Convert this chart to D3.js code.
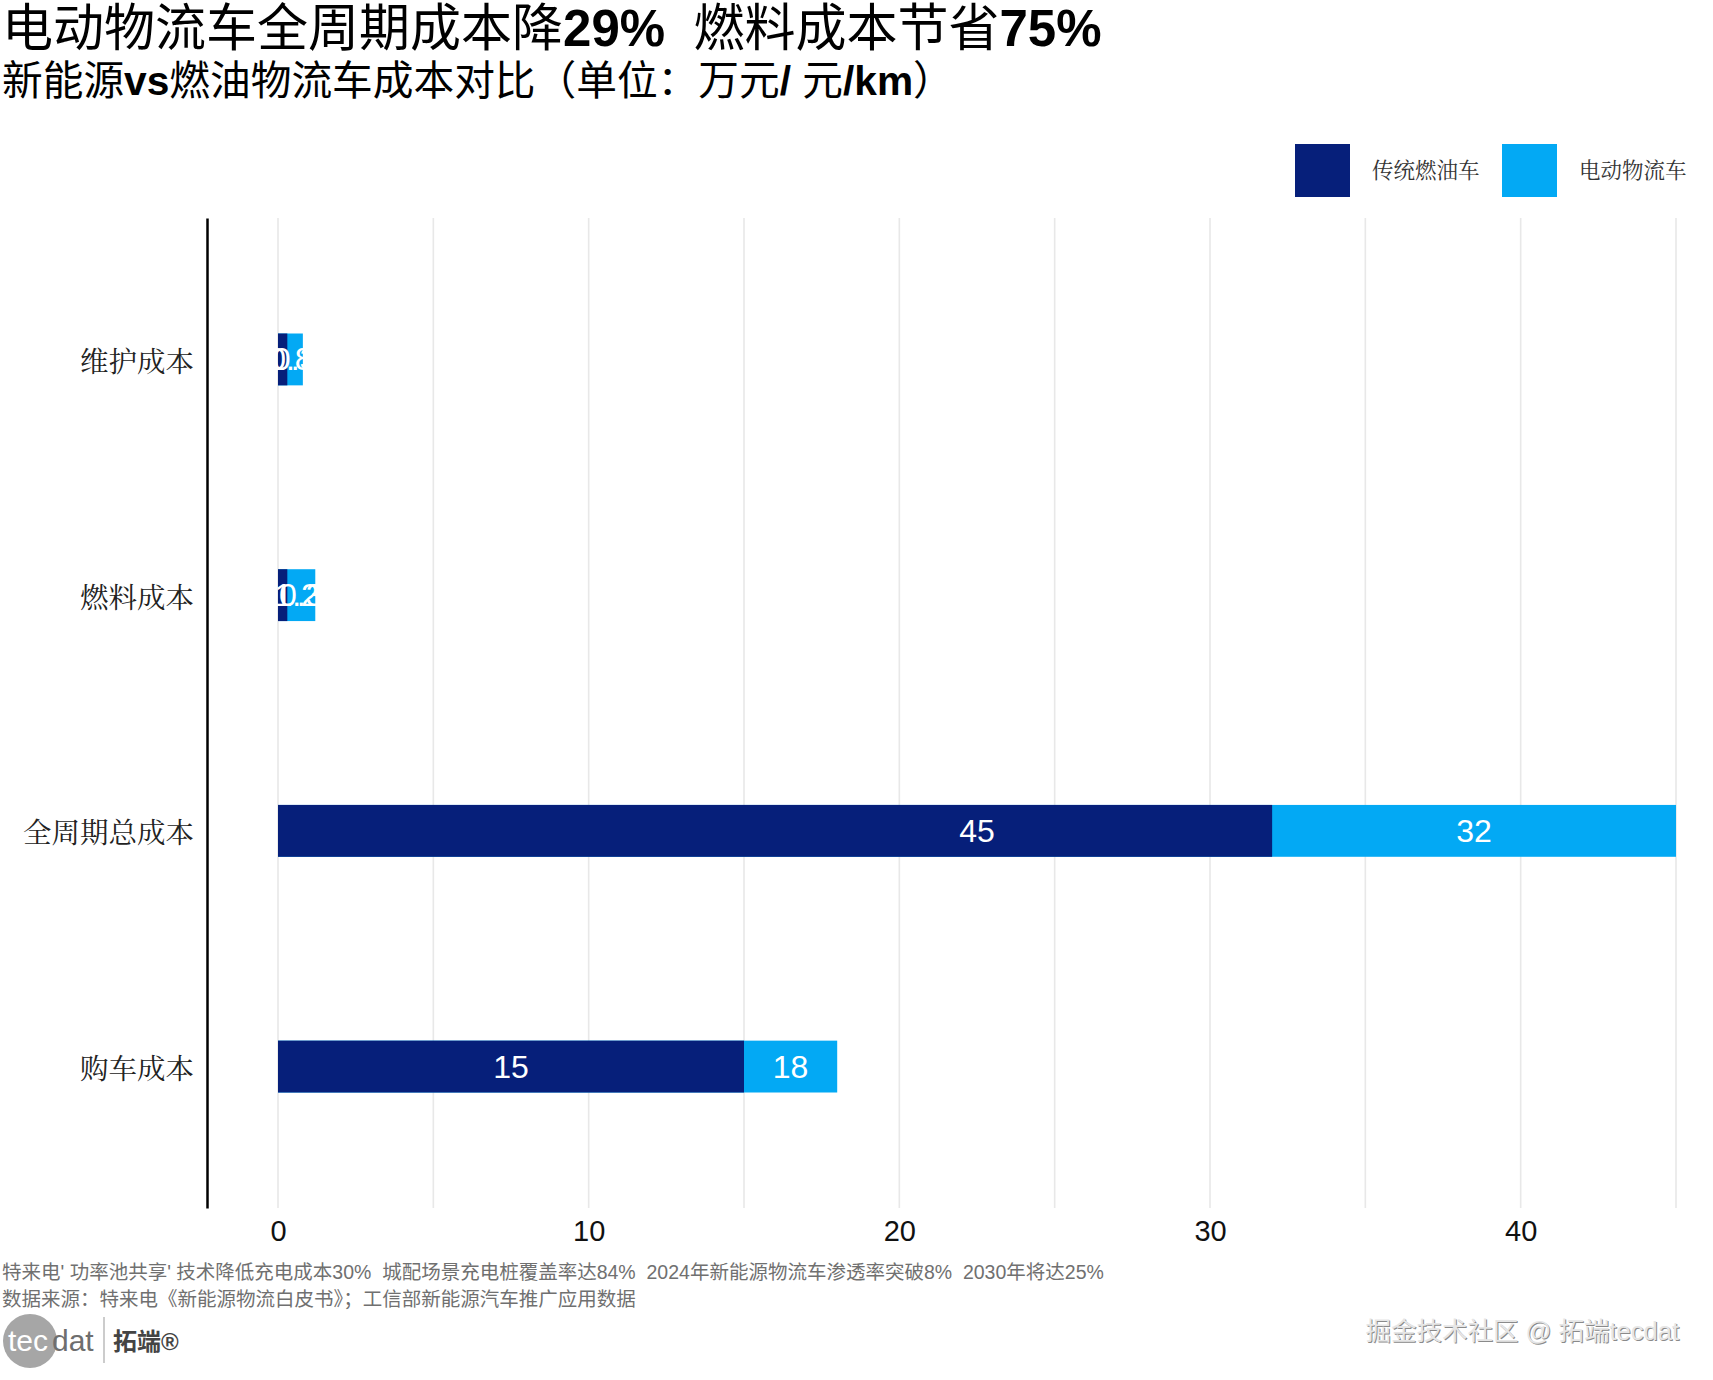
<!DOCTYPE html>
<html lang="zh">
<head>
<meta charset="UTF-8">
<title>电动物流车成本对比</title>
<style>
  body { margin: 0; background: #fff; }
  svg text { font-family: "Liberation Sans", "Noto Sans CJK SC", sans-serif; white-space: pre; }
</style>
</head>
<body>
<div id="chart"></div>
<script src="https://d3js.org/d3.v7.min.js"></script>
<script>

// chart data (top to bottom)
const categories = ["维护成本", "燃料成本", "全周期总成本", "购车成本"];
const fuelCost = [0.8, 1.2, 45, 15];   // 传统燃油车
const evCost = [0.3, 0.3, 32, 18];     // 电动物流车
const seriesNames = ["传统燃油车", "电动物流车"];
const xTicks = [0, 10, 20, 30, 40];
const gridTicks = [0, 5, 10, 15, 20, 25, 30, 35, 40, 45];

const titleText = "电动物流车全周期成本降29%  燃料成本节省75%";
const subtitleText = "新能源vs燃油物流车成本对比（单位：万元/ 元/km）";
const captionLines = [
  "特来电' 功率池共享' 技术降低充电成本30%  城配场景充电桩覆盖率达84%  2024年新能源物流车渗透率突破8%  2030年将达25%",
  "数据来源：特来电《新能源物流白皮书》；工信部新能源汽车推广应用数据"
];

const colors = ["#061f7a", "#03a9f4"];
const W = 1713, H = 1380;
const panel = { left: 207, right: 1680, top: 218, bottom: 1208 };

const svg = d3.select("#chart").append("svg")
  .attr("width", W).attr("height", H);

// split text into latin / cjk runs so latin can be bold
function mixedText(sel, str, latinWeight, cjkWeight) {
  const parts = str.match(/[\x00-\x7f]+|[^\x00-\x7f]+/g);
  sel.selectAll("tspan").data(parts).join("tspan")
    .attr("font-weight", d => /^[\x00-\x7f]/.test(d) ? latinWeight : cjkWeight)
    .text(d => d);
}

// titles
svg.append("text").attr("x", 2).attr("y", 46)
  .attr("font-size", 51).attr("fill", "#000")
  .call(mixedText, titleText, "bold", "normal");
svg.append("text").attr("x", 2).attr("y", 95)
  .attr("font-size", 40.7).attr("fill", "#000")
  .call(mixedText, subtitleText, "bold", "normal");

// scales
const x = d3.scaleLinear().domain([0, 45]).range([278, 1676]);
const y = d3.scalePoint().domain(categories).range([panel.top, panel.bottom]).padding(0.6);
const barH = y.step() * 0.22;

// grid
svg.append("g").selectAll("line").data(gridTicks).join("line")
  .attr("x1", d => x(d)).attr("x2", d => x(d))
  .attr("y1", panel.top).attr("y2", panel.bottom)
  .attr("stroke", "#e8e8e8").attr("stroke-width", 1.6);

// bars
const rows = categories.map((c, i) => ({ cat: c, fuel: fuelCost[i], ev: evCost[i] }));

svg.append("g").selectAll("rect").data(rows).join("rect")
  .attr("x", x(0))
  .attr("y", d => y(d.cat) - barH / 2)
  .attr("width", d => x(Math.max(d.fuel, d.ev)) - x(0))
  .attr("height", barH)
  .attr("fill", colors[1]);

svg.append("g").selectAll("rect").data(rows).join("rect")
  .attr("x", x(0))
  .attr("y", d => y(d.cat) - barH / 2)
  .attr("width", d => x(Math.min(d.fuel, d.ev)) - x(0))
  .attr("height", barH)
  .attr("fill", colors[0]);

// bar labels
const labels = svg.append("g").attr("font-size", 32).attr("fill", "#fff")
  .attr("text-anchor", "middle");
labels.selectAll("text.fuel").data(rows).join("text").attr("class", "fuel")
  .attr("x", d => x(d.fuel / 2))
  .attr("y", d => y(d.cat) + 11)
  .text(d => d.fuel);
labels.selectAll("text.ev").data(rows).join("text").attr("class", "ev")
  .attr("x", d => x((d.fuel + d.ev) / 2))
  .attr("y", d => y(d.cat) + 11)
  .text(d => d.ev);

// x axis
const xAxis = svg.append("g")
  .attr("transform", `translate(0,${panel.bottom})`)
  .call(d3.axisBottom(x).tickValues(xTicks).tickSize(0).tickPadding(12));
xAxis.select(".domain").remove();
xAxis.selectAll("text").attr("font-size", 29).attr("fill", "#111");

// y axis
const yAxis = svg.append("g")
  .attr("transform", `translate(${panel.left},0)`)
  .call(d3.axisLeft(y).tickSize(0).tickSizeOuter(0).tickPadding(13));
yAxis.select(".domain").attr("stroke", "#000").attr("stroke-width", 2.5);
yAxis.selectAll("text").attr("font-size", 28.5).attr("fill", "#222")
  .attr("dy", "0.42em")
  .style("font-family", "'Noto Serif CJK SC', 'Noto Sans CJK SC', serif");

// legend
const legend = svg.append("g");
const legendX = [1295, 1502];
seriesNames.forEach((name, i) => {
  legend.append("rect").attr("x", legendX[i]).attr("y", 144)
    .attr("width", 55).attr("height", 53).attr("fill", colors[i]);
  legend.append("text").attr("x", legendX[i] + 77).attr("y", 178)
    .attr("font-size", 21.5).attr("fill", "#333")
    .style("font-family", "'Noto Serif CJK SC', 'Noto Sans CJK SC', serif")
    .text(name);
});

// caption
svg.append("g").selectAll("text").data(captionLines).join("text")
  .attr("x", 2).attr("y", (d, i) => 1279 + i * 27)
  .attr("font-size", 19.5).attr("fill", "#707070")
  .text(d => d);

// logo
const logo = svg.append("g");
logo.append("circle").attr("cx", 30).attr("cy", 1341).attr("r", 27).attr("fill", "#a6a6a6");
logo.append("text").attr("x", 8).attr("y", 1351).attr("font-size", 30)
  .attr("fill", "#fff").text("tec");
logo.append("text").attr("x", 52).attr("y", 1351).attr("font-size", 30)
  .attr("fill", "#6e6e6e").text("dat");
logo.append("line").attr("x1", 104).attr("x2", 104).attr("y1", 1317).attr("y2", 1363)
  .attr("stroke", "#bbb").attr("stroke-width", 1.5);
logo.append("text").attr("x", 113).attr("y", 1350).attr("font-size", 24)
  .attr("font-weight", "bold").attr("fill", "#444").text("拓端®");

// watermark
const wm = "掘金技术社区 @ 拓端tecdat";
svg.append("text").attr("x", 1680).attr("y", 1341).attr("text-anchor", "end")
  .attr("font-size", 25.5).attr("fill", "#8a8a8a").text(wm);
svg.append("text").attr("x", 1679).attr("y", 1340).attr("text-anchor", "end")
  .attr("font-size", 25.5).attr("fill", "#e6e6e6").text(wm);

</script>
</body>
</html>
